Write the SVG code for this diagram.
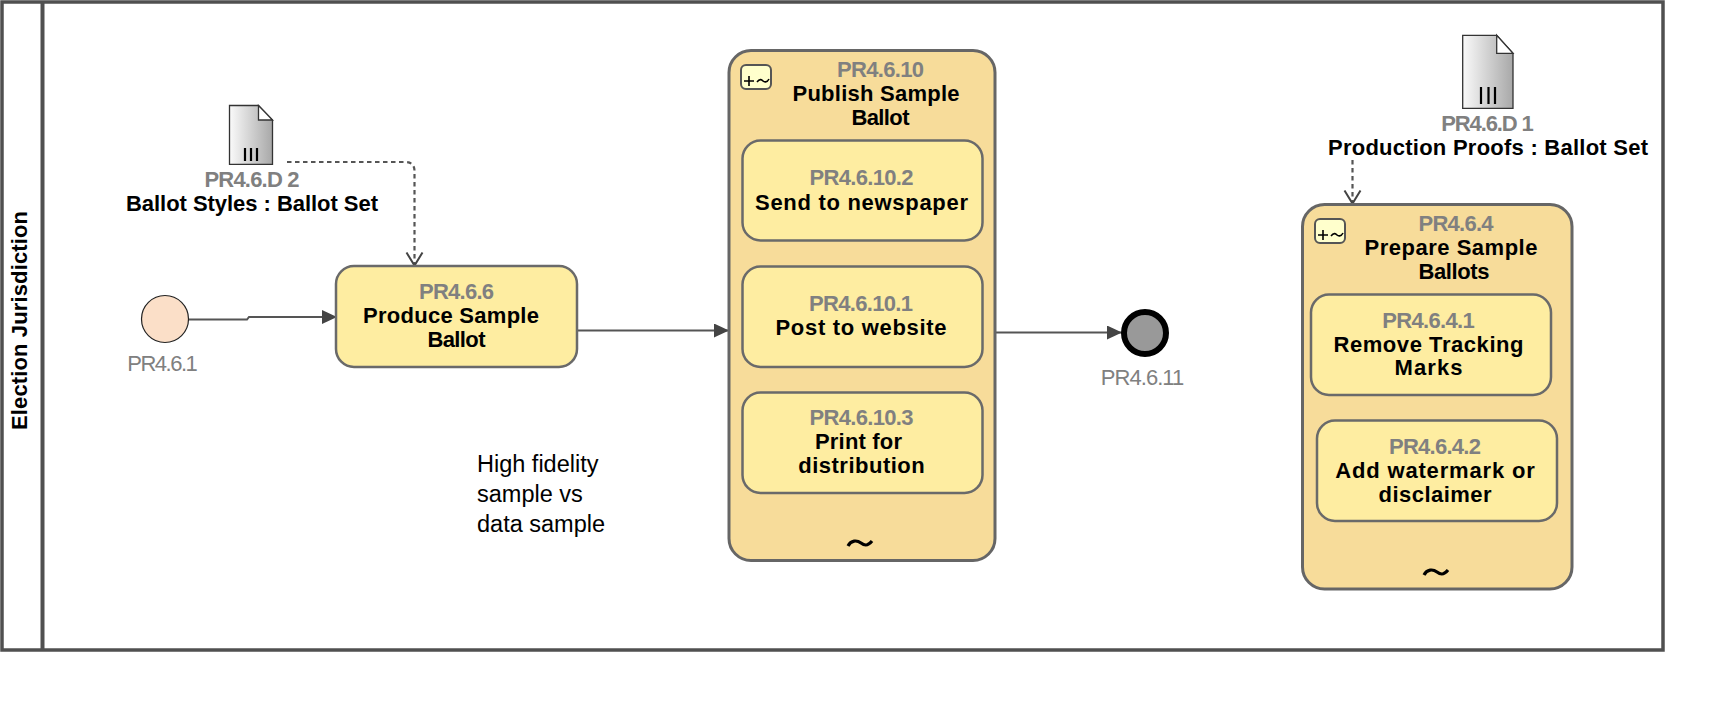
<svg xmlns="http://www.w3.org/2000/svg" width="1722" height="710" viewBox="0 0 1722 710">
<style>
text{font-family:"Liberation Sans",Arial,sans-serif}
.id{font-size:22px;font-weight:700;fill:#808080;text-anchor:middle}
.nm{font-size:22px;font-weight:700;fill:#000;text-anchor:middle}
.ev{font-size:22px;fill:#808080;text-anchor:middle}
.note{font-size:23.5px;fill:#000}
.task{fill:#feeda1;stroke:#6a6a6a;stroke-width:2.5}
.sub{fill:#f7dc9a;stroke:#666;stroke-width:3}
.flow{fill:none;stroke:#555;stroke-width:2;marker-end:url(#solid)}
.assoc{fill:none;stroke:#555;stroke-width:2.2;stroke-dasharray:4.5 3.5;marker-end:url(#open)}
.doc{fill:url(#docg);stroke:#333;stroke-width:1.3}
.fold{fill:#fff;stroke:#333;stroke-width:1.3}
.bar{stroke:#000;stroke-width:2.2}
.icon{fill:#ffffcc;stroke:#555;stroke-width:2}
.ic{fill:none;stroke:#000;stroke-width:1.6}
.tilde{fill:none;stroke:#000;stroke-width:3.2}
</style>
<defs>
<linearGradient id="docg" x1="0" x2="1" y1="0" y2="0"><stop offset="0" stop-color="#fafafa"/><stop offset="1" stop-color="#a8a8a8"/></linearGradient>
<marker id="solid" markerUnits="userSpaceOnUse" markerWidth="16" markerHeight="16" refX="15" refY="7" orient="auto"><path d="M0 0L15 7L0 14Z" fill="#444"/></marker>
<marker id="open" markerUnits="userSpaceOnUse" markerWidth="18" markerHeight="20" refX="14.5" refY="10" orient="auto"><path d="M1 2L14 10L1 18" fill="none" stroke="#444" stroke-width="2"/></marker>
</defs>
<g id="pool">
<rect x="2" y="2" width="1661" height="648" fill="#fff" stroke="#505050" stroke-width="3.5"/>
<line x1="42.5" y1="2" x2="42.5" y2="650" stroke="#505050" stroke-width="4"/>
<text transform="translate(27 320.5) rotate(-90)" text-anchor="middle" font-size="22" font-weight="700" textLength="219">Election Jurisdiction</text>
</g>
<g id="connectors">
<path class="flow" d="M189 319.5H247L249 317H337"/>
<path class="flow" d="M577 330.5H729"/>
<path class="flow" d="M995 332.5H1122"/>
<path class="assoc" d="M287 162H405Q414.5 162 414.5 171V266"/>
<path class="assoc" d="M1352.5 160V204"/>
</g>
<g id="PR4.6.D2">
<path class="doc" d="M229.5 105.5H258.5L272.5 120V164.3H229.5Z"/><path class="fold" d="M258.5 105.5V120H272.5Z"/>
<path class="bar" d="M245 148V161M251 148V161M257 148V161"/>
<text class="id" x="252" y="187" textLength="95">PR4.6.D 2</text>
<text class="nm" x="252" y="211" textLength="252">Ballot Styles : Ballot Set</text>
</g>
<g id="PR4.6.1">
<circle cx="165" cy="319" r="23.5" fill="#fbdfc8" stroke="#222" stroke-width="1.2"/>
<text class="ev" x="162.5" y="371" textLength="70.5">PR4.6.1</text>
</g>
<g id="PR4.6.6">
<rect class="task" x="336" y="266" width="241" height="101" rx="18"/>
<text class="id" x="456.5" y="299" textLength="75">PR4.6.6</text>
<text class="nm" x="451" y="323" textLength="176">Produce Sample</text>
<text class="nm" x="456.5" y="347" textLength="58">Ballot</text>
</g>
<g id="note">
<text class="note" x="477" y="472">High fidelity</text>
<text class="note" x="477" y="502">sample vs</text>
<text class="note" x="477" y="532">data sample</text>
</g>
<g id="PR4.6.10">
<rect class="sub" x="729" y="50.5" width="266" height="510" rx="22"/>
<rect class="icon" x="741" y="65" width="30" height="24" rx="5"/>
<path class="ic" d="M744 81H754M749 76V86M757 82C760 78 762 80 763 81S767 83 769 79"/>
<text class="id" x="880.5" y="77" textLength="87">PR4.6.10</text>
<text class="nm" x="876" y="101" textLength="167">Publish Sample</text>
<text class="nm" x="880.5" y="125" textLength="58">Ballot</text>
<path class="tilde" d="M848 546C851 540 857 540 861 543S868 546 872 541"/>
</g>
<g id="PR4.6.10.2">
<rect class="task" x="742.5" y="140.5" width="240" height="100" rx="18"/>
<text class="id" x="861.5" y="185" textLength="104">PR4.6.10.2</text>
<text class="nm" x="861.5" y="209.5" textLength="213">Send to newspaper</text>
</g>
<g id="PR4.6.10.1">
<rect class="task" x="742.5" y="266.5" width="240" height="100.5" rx="18"/>
<text class="id" x="861" y="311" textLength="104">PR4.6.10.1</text>
<text class="nm" x="861" y="335" textLength="171">Post to website</text>
</g>
<g id="PR4.6.10.3">
<rect class="task" x="742.5" y="392.5" width="240" height="100.5" rx="18"/>
<text class="id" x="861.5" y="425" textLength="104">PR4.6.10.3</text>
<text class="nm" x="858.5" y="449" textLength="87">Print for</text>
<text class="nm" x="861.5" y="473" textLength="126.5">distribution</text>
</g>
<g id="PR4.6.11">
<circle cx="1145" cy="333" r="21" fill="#999" stroke="#000" stroke-width="6"/>
<text class="ev" x="1142.5" y="385" textLength="83.5">PR4.6.11</text>
</g>
<g id="PR4.6.D1">
<path class="doc" d="M1462.7 35.3H1496.7L1513 53.3V108.3H1462.7Z"/><path class="fold" d="M1496.7 35.3V53.3H1513Z"/>
<path class="bar" d="M1481 87V104M1488.5 87V104M1495 87V104"/>
<text class="id" x="1487.5" y="131" textLength="92.5">PR4.6.D 1</text>
<text class="nm" x="1488" y="155" textLength="320">Production Proofs : Ballot Set</text>
</g>
<g id="PR4.6.4">
<rect class="sub" x="1302.5" y="204.5" width="269.5" height="384.5" rx="22"/>
<rect class="icon" x="1315" y="219" width="30" height="24" rx="5"/>
<path class="ic" d="M1318 235H1328M1323 230V240M1331 236C1334 232 1336 234 1337 235S1341 237 1343 233"/>
<text class="id" x="1456" y="231" textLength="75">PR4.6.4</text>
<text class="nm" x="1451" y="255" textLength="173">Prepare Sample</text>
<text class="nm" x="1454" y="279" textLength="71">Ballots</text>
<path class="tilde" d="M1424 575C1427 569 1433 569 1437 572S1444 575 1448 570"/>
</g>
<g id="PR4.6.4.1">
<rect class="task" x="1311" y="294.5" width="240" height="100.5" rx="18"/>
<text class="id" x="1428.5" y="327.5" textLength="92.5">PR4.6.4.1</text>
<text class="nm" x="1428.5" y="351.5" textLength="190">Remove Tracking</text>
<text class="nm" x="1428.5" y="375" textLength="68">Marks</text>
</g>
<g id="PR4.6.4.2">
<rect class="task" x="1317" y="420.5" width="240" height="100.5" rx="18"/>
<text class="id" x="1435" y="453.5" textLength="92">PR4.6.4.2</text>
<text class="nm" x="1435" y="477.5" textLength="199.5">Add watermark or</text>
<text class="nm" x="1435" y="501.5" textLength="113">disclaimer</text>
</g>
</svg>
